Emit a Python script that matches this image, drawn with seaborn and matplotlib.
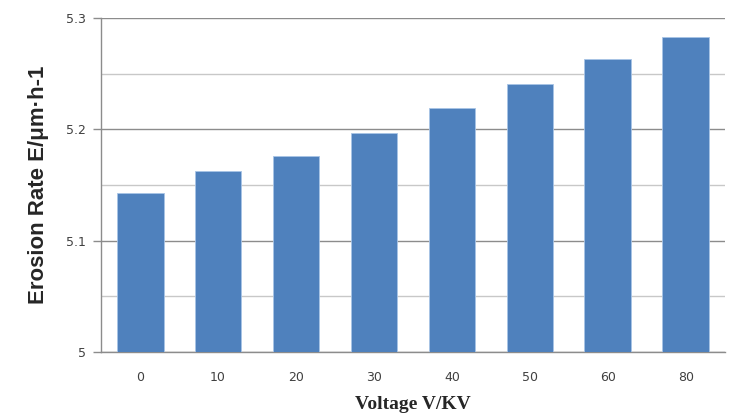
import matplotlib
matplotlib.use("Agg")
import matplotlib.pyplot as plt
import seaborn as sns
import pandas as pd
from matplotlib.ticker import MultipleLocator

voltages = ["0", "10", "20", "30", "40", "50", "60", "80"]
erosion_rate = [5.143, 5.163, 5.176, 5.197, 5.219, 5.241, 5.263, 5.283]

sns.set_style("white")
plt.rcParams['font.family'] = ['DejaVu Sans']

df = pd.DataFrame({'Voltage': voltages, 'Rate': erosion_rate})

fig = plt.figure(figsize=(7.55, 4.13), dpi=100)
ax = fig.add_axes([0.134, 0.148, 0.826, 0.808])

sns.barplot(data=df, x='Voltage', y='Rate', color='#4F81BD', width=0.6,
            edgecolor='#a8c4e6', linewidth=0.6, saturation=1, ax=ax, zorder=3)

ax.set_ylim(5, 5.3)
ax.yaxis.set_minor_locator(MultipleLocator(0.05))
ax.set_yticks([5, 5.1, 5.2, 5.3])
ax.set_yticklabels(['5', '5.1', '5.2', '5.3'])
ax.grid(axis='y', which='major', color='#8c8c8c', linewidth=1.0, zorder=0)
ax.grid(axis='y', which='minor', color='#c8c8c8', linewidth=1.0, zorder=0)
ax.set_axisbelow(True)

for s in ['top', 'right']:
    ax.spines[s].set_visible(False)
for s in ['left', 'bottom']:
    ax.spines[s].set_color('#8c8c8c')
    ax.spines[s].set_linewidth(1.0)

ax.tick_params(axis='y', which='major', left=True, length=6, width=1, color='#8c8c8c',
               labelsize=9, labelcolor='#404040', pad=5)
ax.tick_params(axis='y', which='minor', left=False)
ax.tick_params(axis='x', bottom=False, labelsize=9, labelcolor='#404040', pad=10)

ax.set_ylabel('Erosion Rate E/μm·h-1', fontsize=16, fontweight='bold',
              family=['Liberation Sans Narrow', 'Liberation Sans', 'DejaVu Sans'],
              labelpad=12)
ax.set_xlabel('Voltage V/KV', fontsize=14, fontweight='bold',
              family=['Liberation Serif', 'DejaVu Serif'], labelpad=9)

fig.savefig('out.png', dpi=100)
